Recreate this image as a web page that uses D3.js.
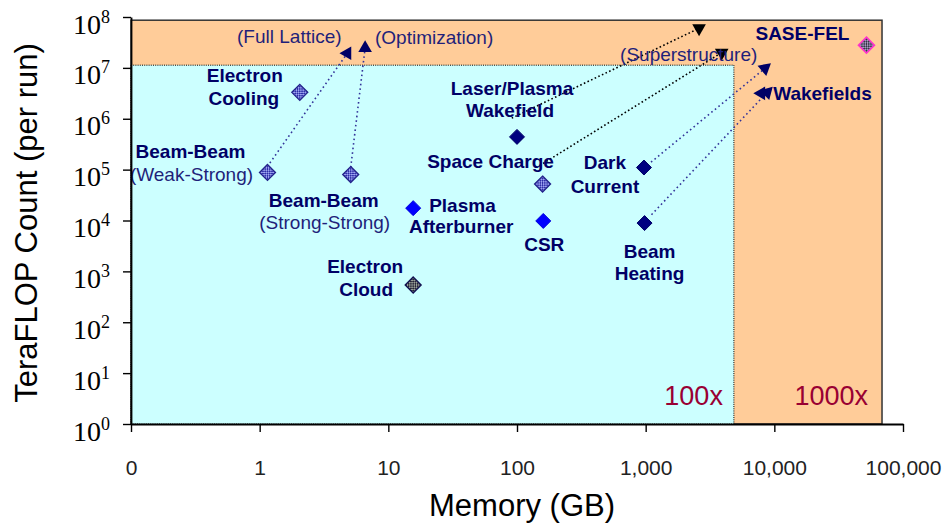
<!DOCTYPE html>
<html>
<head>
<meta charset="utf-8">
<script src="https://cdn.jsdelivr.net/npm/d3@7"></script>
<style>
  body { margin: 0; background: #fff; }
</style>
</head>
<body>
<div id="chart"></div>
<script>
// points: memory (GB) vs TeraFLOP count per run
const pointNames = ["Beam-Beam WS", "Electron Cooling", "Beam-Beam SS", "Plasma Afterburner", "Electron Cloud",
    "Laser/Plasma Wakefield", "Space Charge", "CSR", "Dark Current", "Beam Heating", "SASE-FEL"];
const memoryGB = [1.15, 2.05, 5.1, 15.6, 15.6, 100, 158, 160, 970, 980, 52000];
const teraflops = [8.8e4, 3.3e6, 8e4, 1.75e4, 540, 4.4e5, 5.2e4, 9.8e3, 1.1e5, 8.9e3, 2.8e7];
const markerKind = ["hatch", "hatch", "hatch", "blue", "cloud", "navy", "hatch", "blue", "navy", "navy", "fel"];

// arrows towards future requirements
const arrowNames = ["Full Lattice", "Optimization", "Superstructure A", "Superstructure B", "Dark Current", "Wakefields"];
const arrowFromMem = [1.2, 5.1, 91, 150, 1100, 1110];
const arrowFromFlop = [1.35e5, 1.1e5, 1.03e6, 1.2e5, 1.4e5, 1.3e4];
const arrowToMem = [4.8, 6.6, 2600, 3900, 8450, 8800];
const arrowToFlop = [1.94e7, 2.45e7, 6e7, 2e7, 9.8e6, 3.3e6];
const arrowKind = ["blue", "blue", "black", "black", "blue", "blue"];

// shaded regions (upper corner of each box)
const regionNames = ["1000x", "100x"];
const regionMaxMem = [68700, 4850];
const regionMaxFlop = [8.65e7, 1.13e7];

const xTickValues = [0.1, 1, 10, 100, 1000, 10000, 100000];
const xTickLabels = ["0", "1", "10", "100", "1,000", "10,000", "100,000"];
const yExponents = [0, 1, 2, 3, 4, 5, 6, 7, 8];

// label layout, offsets in px from the mark
const pointLabels = {
    "Beam-Beam WS": [["Beam-Beam", true, "middle", -77, -14], ["(Weak-Strong)", false, "middle", -76, 9]],
    "Electron Cooling": [["Electron", true, "middle", -55, -10], ["Cooling", true, "middle", -56, 13]],
    "Beam-Beam SS": [["Beam-Beam", true, "middle", -27, 32], ["(Strong-Strong)", false, "middle", -26, 54]],
    "Plasma Afterburner": [["Plasma", true, "start", 16, 4], ["Afterburner", true, "middle", 48, 25]],
    "Electron Cloud": [["Electron", true, "middle", -48, -12], ["Cloud", true, "middle", -47, 11]],
    "Laser/Plasma Wakefield": [["Laser/Plasma", true, "middle", -5, -42], ["Wakefield", true, "middle", -7, -20]],
    "Space Charge": [["Space Charge", true, "middle", -52, -16]],
    "CSR": [["CSR", true, "middle", 1, 30]],
    "Dark Current": [["Dark", true, "middle", -39, 1], ["Current", true, "middle", -39, 25]],
    "Beam Heating": [["Beam", true, "middle", 5, 35], ["Heating", true, "middle", 5, 57]],
    "SASE-FEL": [["SASE-FEL", true, "middle", -64, -5]]
};
const arrowLabels = {
    "Full Lattice": [["(Full Lattice)", false, "middle", -58, -10]],
    "Optimization": [["(Optimization)", false, "middle", 69, -4]],
    "Superstructure B": [["(Superstructure)", false, "middle", -33, 8]],
    "Wakefields": [["Wakefields", true, "start", 6, 8]]
};
const headAngles = {
    "Full Lattice": [-90], "Optimization": [0], "Superstructure A": [180], "Superstructure B": [180],
    "Dark Current": [50], "Wakefields": [45, -90]
};

const width = 951, height = 527;
const svg = d3.select("#chart").append("svg")
    .attr("width", width)
    .attr("height", height)
    .style("font-family", "Arial, 'Liberation Sans', sans-serif");

let x = d3.scaleLog().domain([0.1, 100000]).range([131, 903]);
let y = d3.scaleLog().domain([1, 1e8]).range([424, 17]);

let defs = svg.append("defs");
function checker(id, c1, c2, s) {
    let p = defs.append("pattern")
        .attr("id", id)
        .attr("width", s * 2).attr("height", s * 2)
        .attr("patternUnits", "userSpaceOnUse")
        .attr("patternTransform", "rotate(45)");
    p.append("rect").attr("width", s * 2).attr("height", s * 2).attr("fill", c1);
    p.append("rect").attr("width", s).attr("height", s).attr("fill", c2);
    p.append("rect").attr("x", s).attr("y", s).attr("width", s).attr("height", s).attr("fill", c2);
}
checker("hatchBlue", "#9da4f0", "#2f2fa8", 1.6);
checker("hatchGray", "#98a098", "#262638", 1.6);
checker("hatchFel", "#a898c0", "#363646", 1.6);

// regions
svg.append("g").selectAll("rect")
    .data(regionNames)
    .enter().append("rect")
    .attr("x", x(0.1))
    .attr("y", (d, i) => y(regionMaxFlop[i]))
    .attr("width", (d, i) => x(regionMaxMem[i]) - x(0.1))
    .attr("height", (d, i) => y(1) - y(regionMaxFlop[i]))
    .attr("fill", (d, i) => i === 0 ? "#ffcc99" : "#ccffff")
    .attr("stroke", (d, i) => i === 0 ? "#333" : "#000")
    .attr("stroke-width", (d, i) => i === 0 ? 1.5 : 1)
    .attr("stroke-dasharray", (d, i) => i === 0 ? null : "1,1.2");

svg.append("g").selectAll("text")
    .data(regionNames)
    .enter().append("text")
    .attr("x", (d, i) => x(regionMaxMem[i]) - (i === 0 ? 14 : 11))
    .attr("y", y(1) - 19)
    .attr("text-anchor", "end")
    .attr("font-size", 27)
    .attr("fill", "#990033")
    .text(d => d);

// arrows
let arrows = svg.append("g");
arrowNames.forEach(function (name, i) {
    let x0 = x(arrowFromMem[i]), y0 = y(arrowFromFlop[i]);
    let x1 = x(arrowToMem[i]), y1 = y(arrowToFlop[i]);
    let col = arrowKind[i] === "blue" ? "#333399" : "#000";
    arrows.append("line")
        .attr("x1", x0).attr("y1", y0)
        .attr("x2", x1).attr("y2", y1)
        .attr("stroke", col)
        .attr("stroke-width", 1.6)
        .attr("stroke-dasharray", arrowKind[i] === "blue" ? "1.6,3" : "1.6,2.4");
    headAngles[name].forEach(function (a, k) {
        arrows.append("path")
            .attr("d", d3.symbol(d3.symbolTriangle, 80)())
            .attr("transform", "translate(" + (x1 - (k ? 6 : 0)) + "," + (y1 + (k ? 1 : 0)) + ") rotate(" + a + ")")
            .attr("fill", arrowKind[i] === "blue" ? "#000066" : "#000");
    });
});

// markers
const markerStyle = {
    hatch: {fill: "url(#hatchBlue)", stroke: "#22228a", r: 8, sw: 1.3},
    blue: {fill: "#0000ff", stroke: "#0000dd", r: 7.5, sw: 1},
    navy: {fill: "#000080", stroke: "#000066", r: 7.5, sw: 1},
    cloud: {fill: "url(#hatchGray)", stroke: "#101050", r: 8, sw: 1.3},
    fel: {fill: "url(#hatchFel)", stroke: "#ff33cc", r: 8, sw: 1.6}
};
function diamond(r) {
    return "M0," + (-r) + "L" + r + ",0L0," + r + "L" + (-r) + ",0Z";
}
svg.append("g").selectAll("path")
    .data(pointNames)
    .enter().append("path")
    .attr("d", (d, i) => diamond(markerStyle[markerKind[i]].r))
    .attr("transform", (d, i) => "translate(" + x(memoryGB[i]) + "," + y(teraflops[i]) + ")")
    .attr("fill", (d, i) => markerStyle[markerKind[i]].fill)
    .attr("stroke", (d, i) => markerStyle[markerKind[i]].stroke)
    .attr("stroke-width", (d, i) => markerStyle[markerKind[i]].sw);

// labels
let labels = svg.append("g").attr("font-size", 19);
function addLabels(lines, px, py) {
    lines.forEach(function (l) {
        labels.append("text")
            .attr("x", px + l[3])
            .attr("y", py + l[4])
            .attr("text-anchor", l[2])
            .attr("font-weight", l[1] ? "bold" : "normal")
            .attr("fill", l[1] ? "#000066" : "#1f1f7a")
            .text(l[0]);
    });
}
pointNames.forEach(function (name, i) {
    addLabels(pointLabels[name], x(memoryGB[i]), y(teraflops[i]));
});
arrowNames.forEach(function (name, i) {
    if (arrowLabels[name]) addLabels(arrowLabels[name], x(arrowToMem[i]), y(arrowToFlop[i]));
});

// axes
let xAxis = svg.append("g")
    .attr("transform", "translate(0," + y(1) + ")")
    .call(d3.axisBottom(x).tickValues(xTickValues).tickSizeInner(8).tickSizeOuter(0)
        .tickFormat((d, i) => xTickLabels[i]));
xAxis.select(".domain").attr("stroke-width", 1.8);
xAxis.selectAll(".tick line").attr("stroke-width", 1.4);
xAxis.selectAll("text")
    .attr("y", 51).attr("dy", null)
    .attr("font-size", 21)
    .attr("font-family", "Arial, 'Liberation Sans', sans-serif")
    .attr("fill", "#222");

let yAxis = svg.append("g")
    .attr("transform", "translate(" + x(0.1) + ",0)")
    .call(d3.axisLeft(y).tickValues(yExponents.map(e => Math.pow(10, e))).tickSizeInner(8).tickSizeOuter(0)
        .tickFormat(""));
yAxis.select(".domain").attr("stroke-width", 1.8);
yAxis.selectAll(".tick line").attr("stroke-width", 1.4);
yAxis.selectAll(".tick").each(function (d, i) {
    let t = d3.select(this).append("text")
        .attr("x", -21)
        .attr("y", 16)
        .attr("text-anchor", "end")
        .attr("fill", "#000")
        .attr("font-family", "'Times New Roman', 'Liberation Serif', serif")
        .attr("font-size", 28);
    t.append("tspan").text("10");
    t.append("tspan").attr("font-size", 18).attr("dy", -11).text(yExponents[i]);
});

svg.append("text")
    .attr("x", 522)
    .attr("y", 516)
    .attr("text-anchor", "middle")
    .attr("font-size", 31)
    .text("Memory (GB)");

svg.append("text")
    .attr("transform", "translate(37,223) rotate(-90)")
    .attr("text-anchor", "middle")
    .attr("font-size", 31)
    .text("TeraFLOP Count (per run)");
</script>
</body>
</html>
